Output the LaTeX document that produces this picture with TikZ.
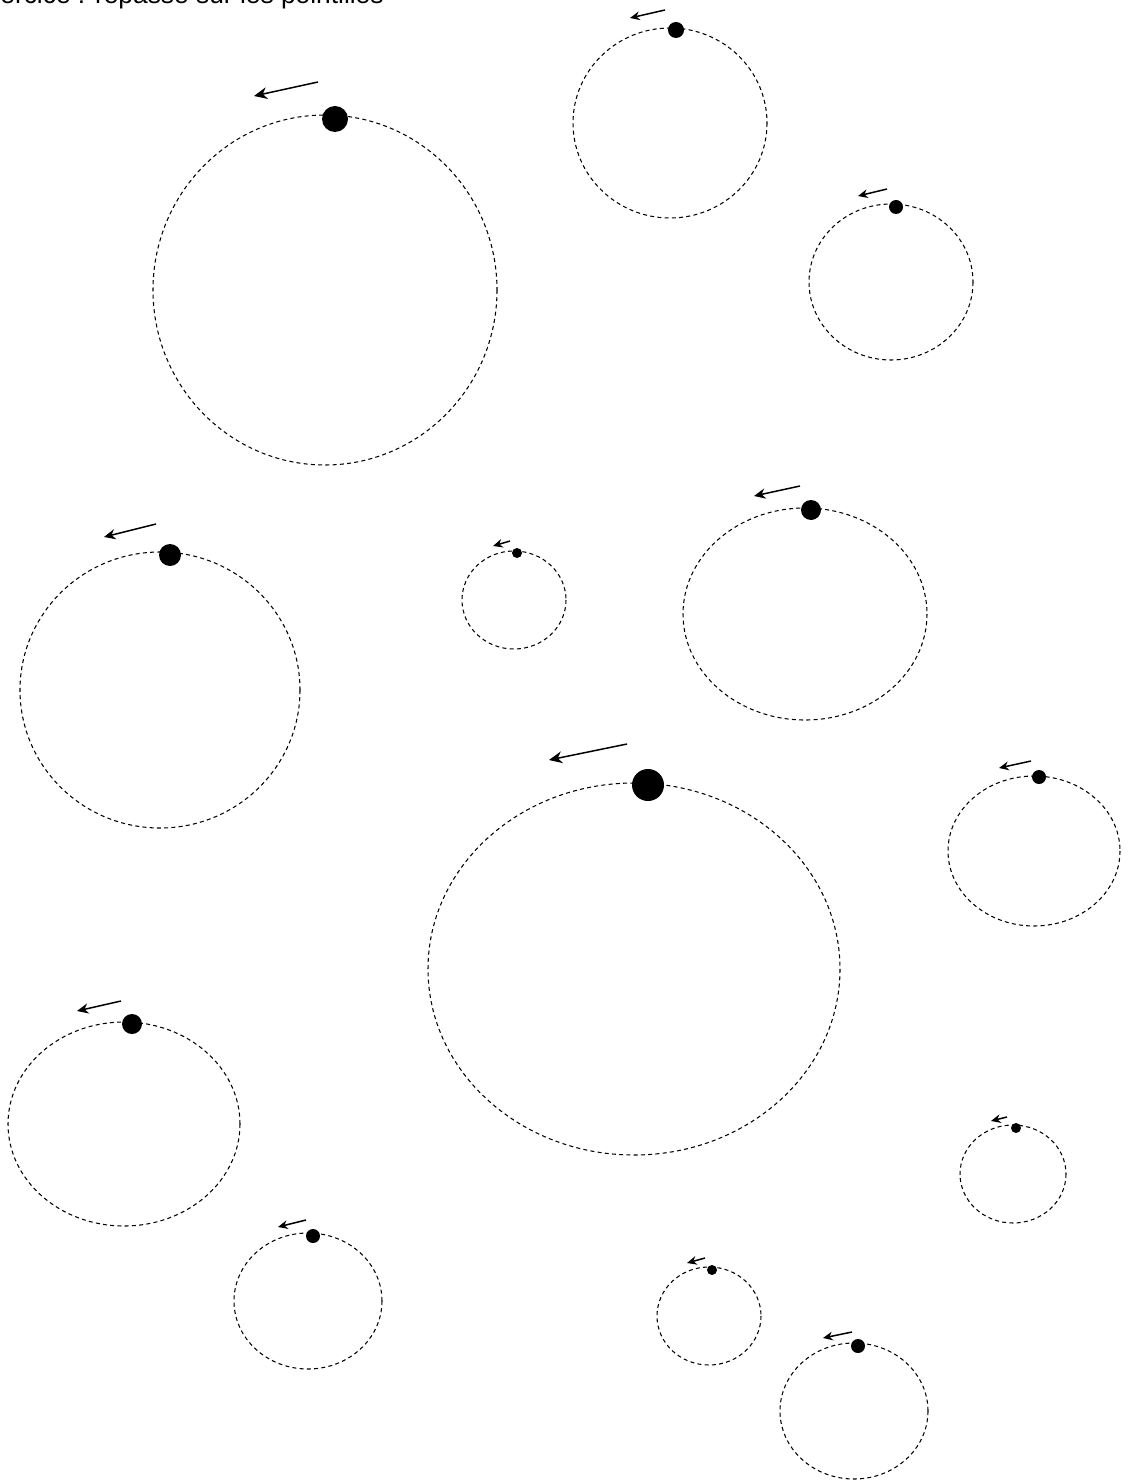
\documentclass[tikz,border=0pt]{standalone}
\usepackage{fontspec}
\setmainfont{Liberation Sans}
\usetikzlibrary{arrows.meta}
\tikzset{
  orbit/.style={draw, dash pattern=on 0.08cm off 0.065cm, line width=0.6pt},
  planet/.style={fill=black},
  motion/.style={line width=0.85pt},
}
\begin{document}
\begin{tikzpicture}[x=0.02cm, y=-0.02cm]
  \useasboundingbox (0,0) rectangle (1127,1483);
  \clip (0,0) rectangle (1127,1483);

  % ── consigne (coupée en haut) ───────────────────────────────────────────
  \node[anchor=base east, inner sep=0pt, font=\fontsize{15}{17}\selectfont]
    (consigne) at (384,4) {Exercice : repasse sur les pointillés};

  % ── orbites : centre / rayons / planète / flèche ─────────────────────────
  \foreach \cx/\cy/\rx/\ry/\dx/\dy/\r/\ax/\ay/\bx/\by/\tip in {
      325/290/172/175/335/119/13/318/82/254/96/7.5pt,
      670/123/97/95/676/30/8/665/10/630/18/5.5pt,
      891/282/82/78/896/207/7/887/189/858/196/5.5pt,
      160/690/140/138/170/555/11/156/524/104/537/6.5pt,
      514/600/52/49/517/553/5/510/541/493/546/5.5pt,
      805/614/122/106/811/510/10/800/486/754/496/6.5pt,
      634/969/206/186/648/785/16/627/744/549/760/7.5pt,
      1034/851/86/75/1039/777/7/1031/761/999/768/5.5pt,
      124/1124/116/102/132/1024/10/121/1001/77/1011/6.5pt,
      1013/1174/53/49/1016/1128/5/1007/1117/991/1121/5.5pt,
      308/1301/74/68/313/1236/7/306/1220/278/1227/5.5pt,
      709/1316/52/49/712/1270/5/705/1258/687/1263/5.5pt,
      854/1411/74/68/858/1346/7/852/1332/823/1338/5.5pt}{
    \draw[orbit] (\cx,\cy) ellipse [x radius=\rx, y radius=\ry];
    \fill[planet] (\dx,\dy) circle [radius=\r];
    \coordinate (from) at (\ax,\ay);
    \coordinate (to) at (\bx,\by);
    \draw[motion, -{Stealth[length=\tip, width=0.9*\tip]}] (from) -- (to);
  }

\end{tikzpicture}
\end{document}
